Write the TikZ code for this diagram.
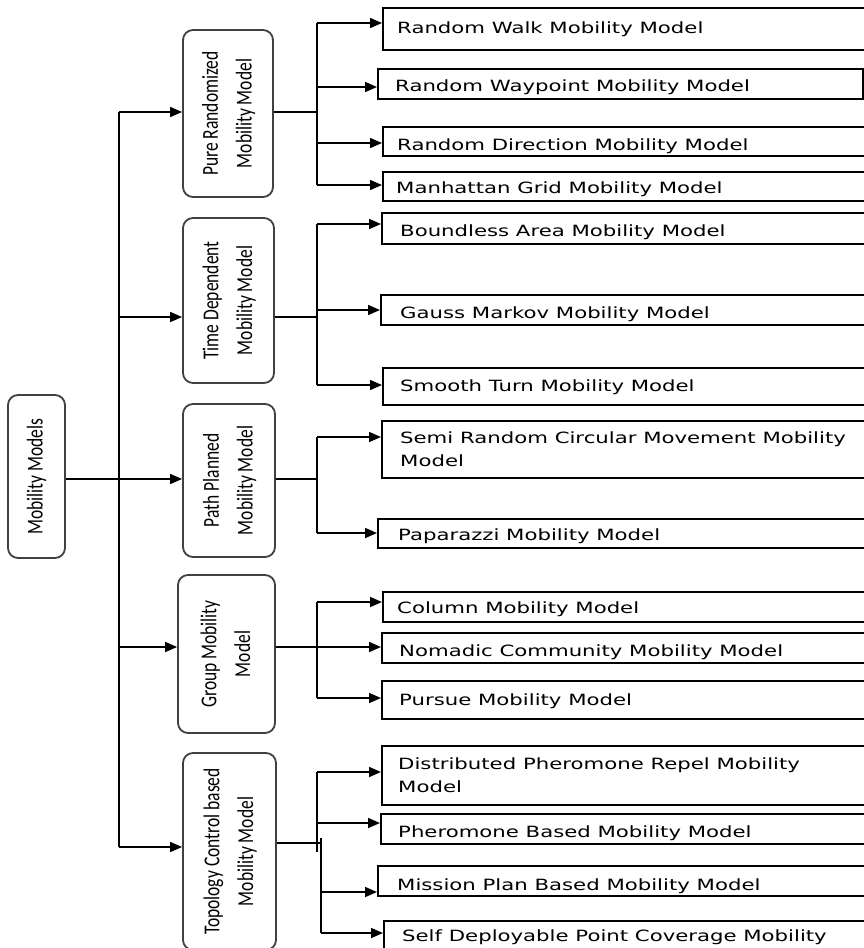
\documentclass[tikz,border=0pt]{standalone}
\usepackage{fontspec}
\usepackage{graphicx}
\setmainfont{Carlito}
\newfontfamily\leaffont[FakeStretch=1.37]{DejaVu Sans}
\usetikzlibrary{arrows.meta}
\newcommand\cattext[2]{\rotatebox{90}{\scalebox{1}[1.3]{\fontsize{17.5}{26}\selectfont\begin{tabular}{@{}c@{}}#1\\#2\end{tabular}}}}
\newcommand\roottext[1]{\rotatebox{90}{\scalebox{1}[1.3]{\fontsize{17.5}{26}\selectfont #1}}}
\tikzset{
  cat/.style={draw=black!75, line width=1.8pt, rounded corners=10pt, inner sep=0pt, fill=white},
  leaf/.style={draw=black, line width=1.8pt, anchor=north west, inner sep=0pt},
  lt/.style={anchor=base west, inner sep=0pt, align=left, font=\leaffont\fontsize{15.5}{23}\selectfont},
  con/.style={line width=1.7pt},
  arr/.style={con, -{Triangle[length=12pt,width=10pt]}}
}
\begin{document}
\begin{tikzpicture}[x=1pt,y=-1pt]
\useasboundingbox (0,0) rectangle (864,948);
\clip (0,0) rectangle (864,948);
% root and categories
\node[cat, minimum width=57pt, minimum height=163pt] (root) at (36.5,476.5) {\roottext{Mobility Models}};
\node[cat, minimum width=90pt, minimum height=167pt] (pr) at (228,113.5) {\cattext{Pure Randomized}{Mobility Model}};
\node[cat, minimum width=91pt, minimum height=165pt] (td) at (228.5,300.5) {\cattext{Time Dependent}{Mobility Model}};
\node[cat, minimum width=92pt, minimum height=153pt] (pp) at (229,480.5) {\cattext{Path Planned}{Mobility Model}};
\node[cat, minimum width=97pt, minimum height=158pt] (gr) at (226.5,654) {\cattext{Group Mobility}{Model}};
\node[cat, minimum width=93pt, minimum height=197pt] (tc) at (229.5,851.5) {\cattext{Topology Control based}{Mobility Model}};
% leaf boxes
\node[leaf, minimum width=500pt, minimum height=42pt] (rw) at (382,7) {};
\node[leaf, minimum width=485pt, minimum height=30pt] (wp) at (377,68) {};
\node[leaf, minimum width=500pt, minimum height=29pt] (rd) at (382,126) {};
\node[leaf, minimum width=500pt, minimum height=29pt] (mg) at (382,171) {};
\node[leaf, minimum width=500pt, minimum height=31pt] (ba) at (381,212) {};
\node[leaf, minimum width=500pt, minimum height=30pt] (gm) at (380,294) {};
\node[leaf, minimum width=500pt, minimum height=37pt] (st) at (382,367) {};
\node[leaf, minimum width=500pt, minimum height=57pt] (sr) at (381,420) {};
\node[leaf, minimum width=500pt, minimum height=29pt] (pz) at (377,518) {};
\node[leaf, minimum width=500pt, minimum height=30pt] (cm) at (382,591) {};
\node[leaf, minimum width=500pt, minimum height=30pt] (nc) at (381,632) {};
\node[leaf, minimum width=500pt, minimum height=38pt] (pu) at (381,680) {};
\node[leaf, minimum width=500pt, minimum height=59pt] (dp) at (381,745) {};
\node[leaf, minimum width=500pt, minimum height=30pt] (pb) at (380,813) {};
\node[leaf, minimum width=500pt, minimum height=30pt] (mp) at (377,865) {};
\node[leaf, minimum width=500pt, minimum height=60pt] (sd) at (383,920) {};
% leaf texts
\node[lt] (rwt) at (397,33) {Random Walk Mobility Model};
\node[lt] (wpt) at (395,91) {Random Waypoint Mobility Model};
\node[lt] (rdt) at (397,150) {Random Direction Mobility Model};
\node[lt] (mgt) at (396,193) {Manhattan Grid Mobility Model};
\node[lt] (bat) at (400,236) {Boundless Area Mobility Model};
\node[lt] (gmt) at (400,318) {Gauss Markov Mobility Model};
\node[lt] (stt) at (400,391) {Smooth Turn Mobility Model};
\node[lt] (srt) at (400,466) {Semi Random Circular Movement Mobility\\Model};
\node[lt] (pzt) at (398,540) {Paparazzi Mobility Model};
\node[lt] (cmt) at (397,613) {Column Mobility Model};
\node[lt] (nct) at (399,656) {Nomadic Community Mobility Model};
\node[lt] (put) at (399,705) {Pursue Mobility Model};
\node[lt] (dpt) at (398,792) {Distributed Pheromone Repel Mobility\\Model};
\node[lt] (pbt) at (398,837) {Pheromone Based Mobility Model};
\node[lt] (mpt) at (397,890) {Mission Plan Based Mobility Model};
\node[lt] (sdt) at (402,941) {Self Deployable Point Coverage Mobility};
% main trunk
\coordinate (t1) at (119,112);
\coordinate (t2) at (119,317);
\coordinate (t3) at (119,479);
\coordinate (t4) at (119,647);
\coordinate (t5) at (119,847);
\draw[con] (t1) -- (t5);
\draw[con] (root.east |- t3) -- (t3);
\draw[arr] (t1) -- (t1 -| pr.west);
\draw[arr] (t2) -- (t2 -| td.west);
\draw[arr] (t3) -- (t3 -| pp.west);
\draw[arr] (t4) -- (t4 -| gr.west);
\draw[arr] (t5) -- (t5 -| tc.west);
% pure randomized
\coordinate (pbr) at (317,112);
\coordinate (p1) at (317,23);
\coordinate (p2) at (317,87);
\coordinate (p3) at (317,143);
\coordinate (p4) at (317,185);
\draw[con] (pbr -| pr.east) -- (pbr);
\draw[con] (p1) -- (p4);
\draw[arr] (p1) -- (p1 -| rw.west);
\draw[arr] (p2) -- (p2 -| wp.west);
\draw[arr] (p3) -- (p3 -| rd.west);
\draw[arr] (p4) -- (p4 -| mg.west);
% time dependent
\coordinate (tbr) at (317,317);
\coordinate (q1) at (317,224);
\coordinate (q2) at (317,310);
\coordinate (q3) at (317,385);
\draw[con] (tbr -| td.east) -- (tbr);
\draw[con] (q1) -- (q3);
\draw[arr] (q1) -- (q1 -| ba.west);
\draw[arr] (q2) -- (q2 -| gm.west);
\draw[arr] (q3) -- (q3 -| st.west);
% path planned
\coordinate (hbr) at (317,479);
\coordinate (r1) at (317,437);
\coordinate (r2) at (317,533);
\draw[con] (hbr -| pp.east) -- (hbr);
\draw[con] (r1) -- (r2);
\draw[arr] (r1) -- (r1 -| sr.west);
\draw[arr] (r2) -- (r2 -| pz.west);
% group
\coordinate (gbr) at (317,647);
\coordinate (s1) at (317,602);
\coordinate (s3) at (317,698);
\draw[con] (gbr -| gr.east) -- (gbr);
\draw[con] (s1) -- (s3);
\draw[arr] (s1) -- (s1 -| cm.west);
\draw[arr] (gbr) -- (gbr -| nc.west);
\draw[arr] (s3) -- (s3 -| pu.west);
% topology
\coordinate (obr) at (321,843);
\coordinate (u1) at (317,772);
\coordinate (u2) at (317,823);
\coordinate (u2e) at (317,852);
\coordinate (u3s) at (321,838);
\coordinate (u3) at (321,892);
\coordinate (u4) at (321,933);
\draw[con] (obr -| tc.east) -- (obr);
\draw[con] (u1) -- (u2e);
\draw[con] (u3s) -- (u4);
\draw[arr] (u1) -- (u1 -| dp.west);
\draw[arr] (u2) -- (u2 -| pb.west);
\draw[arr] (u3) -- (u3 -| mp.west);
\draw[arr] (u4) -- (u4 -| sd.west);
\end{tikzpicture}
\end{document}
